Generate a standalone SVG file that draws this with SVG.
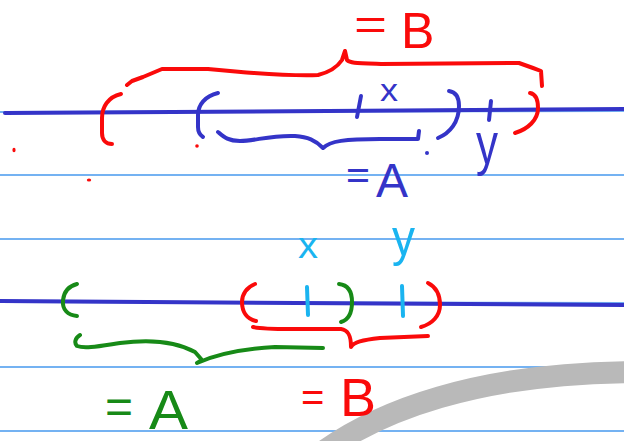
<svg xmlns="http://www.w3.org/2000/svg" width="624" height="441" viewBox="0 0 624 441">
<style>
.rule{stroke:#74b2f2;stroke-width:2;fill:none}
.axis{stroke:#3434c8;stroke-width:4;fill:none;stroke-linecap:round}
.ink{fill:none;stroke-width:4;stroke-linecap:round;stroke-linejoin:round}
.red{stroke:#fa0a0a}
.blue{stroke:#3434c8}
.green{stroke:#178a17}
.cyan{stroke:#1ab4f0}
.t{font-family:"Liberation Sans","DejaVu Sans",sans-serif}
.tred{fill:#fa0a0a}
.tblue{fill:#3434c8}
.tgreen{fill:#178a17}
.tcyan{fill:#1ab4f0}
</style>
<rect width="624" height="441" fill="#ffffff"/>
<g id="ruled-lines">
<line class="rule" x1="0" y1="112" x2="624" y2="111"/>
<line class="rule" x1="0" y1="175" x2="624" y2="175"/>
<line class="rule" x1="0" y1="239" x2="624" y2="239"/>
<line class="rule" x1="0" y1="302" x2="624" y2="303"/>
<line class="rule" x1="0" y1="367" x2="624" y2="367"/>
<line class="rule" x1="0" y1="431" x2="624" y2="431"/>
</g>
<g id="pen-shadow">
<path d="M312,460 C375,410 480,372 640,372" fill="none" stroke="#b9b9b9" stroke-width="22"/>
</g>
<g id="top-number-line">
<line class="axis" x1="5" y1="113" x2="624" y2="109"/>
<path class="ink blue" d="M361,96 L357,117"/>
<path class="ink blue" d="M491,101 L489,120"/>
<text class="t tblue" x="380" y="101" font-size="32" textLength="18" lengthAdjust="spacingAndGlyphs">x</text>
<text class="t tblue" x="476" y="164" font-size="60" textLength="22" lengthAdjust="spacingAndGlyphs">y</text>
</g>
<g id="top-interval-B">
<path class="ink red" d="M121,94 C108,97 102,107 102,118 L102,133 C102,140 106,144 112,144"/>
<path class="ink red" d="M530,93 C536,94 538,99 538,108 C538,120 528,129 515,133"/>
<path class="ink red" d="M127,85 L132,81 L143,77 L162,69 L208,69 L241,72 C270,74 290,76 318,75 C330,72 338,66 342,60 L345,51 L347,60 C350,63 355,63 381,64 L519,63 L533,68 L541,71 L542,86"/>
<text class="t tred" x="354" y="39" font-size="43" textLength="33" lengthAdjust="spacingAndGlyphs">=</text>
<text class="t tred" x="401" y="48" font-size="50">B</text>
</g>
<g id="top-interval-A">
<path class="ink blue" d="M218,93 C205,96 198,105 198,115 L198,127 C198,132 200,135 203,137"/>
<path class="ink blue" d="M449,91 C456,92 459,97 459,106 C459,122 450,133 438,138"/>
<path class="ink blue" d="M218,132 C224,137 228,141 240,141 C255,141 270,135 295,136 C308,137 315,140 323,148 C330,141 345,139 380,139 L418,139 L419,131"/>
<text class="t tblue" x="346" y="189" font-size="41">=</text>
<text class="t tblue" x="376" y="197" font-size="48">A</text>
</g>
<g id="dots">
<ellipse cx="14" cy="150" rx="1.6" ry="2.2" fill="#fa0a0a"/>
<ellipse cx="89" cy="180" rx="2.2" ry="1.6" fill="#fa0a0a"/>
<ellipse cx="197" cy="146" rx="1.8" ry="1.8" fill="#fa0a0a"/>
<ellipse cx="427" cy="153" rx="2" ry="2" fill="#3434c8"/>
</g>
<g id="bottom-number-line">
<line class="axis" x1="0" y1="301" x2="624" y2="305"/>
<path class="ink cyan" d="M307,287 L308,315" stroke-width="6"/>
<path class="ink cyan" d="M402,286 L403,316"/>
<text class="t tcyan" x="298" y="258" font-size="36" textLength="20" lengthAdjust="spacingAndGlyphs">x</text>
<text class="t tcyan" x="392" y="255" font-size="52" textLength="23" lengthAdjust="spacingAndGlyphs">y</text>
</g>
<g id="bottom-interval-A">
<path class="ink green" d="M77,284 C69,286 64,292 63,300 C62,310 68,315 77,316"/>
<path class="ink green" d="M339,284 C348,285 352,292 352,302 C352,314 348,320 341,322"/>
<path class="ink green" d="M80,335 C75,338 74,343 77,346 C85,349 100,346 120,343 C150,339 175,341 195,352 L202,360 L197,363 C215,355 240,349 275,347 L323,348"/>
<text class="t tgreen" x="105" y="423" font-size="48">=</text>
<text class="t tgreen" x="149" y="429" font-size="56" textLength="39" lengthAdjust="spacingAndGlyphs">A</text>
</g>
<g id="bottom-interval-B">
<path class="ink red" d="M255,284 C247,287 242,294 242,302 C242,312 247,319 256,321"/>
<path class="ink red" d="M428,283 C436,287 440,295 440,305 C440,316 432,324 421,327"/>
<path class="ink red" d="M253,327 C262,329 275,329 290,329 L341,329 C348,330 351,335 351,347 C354,342 362,340 380,338 L428,336"/>
<text class="t tred" x="301" y="411" font-size="40">=</text>
<text class="t tred" x="340" y="416" font-size="54">B</text>
</g>
</svg>
